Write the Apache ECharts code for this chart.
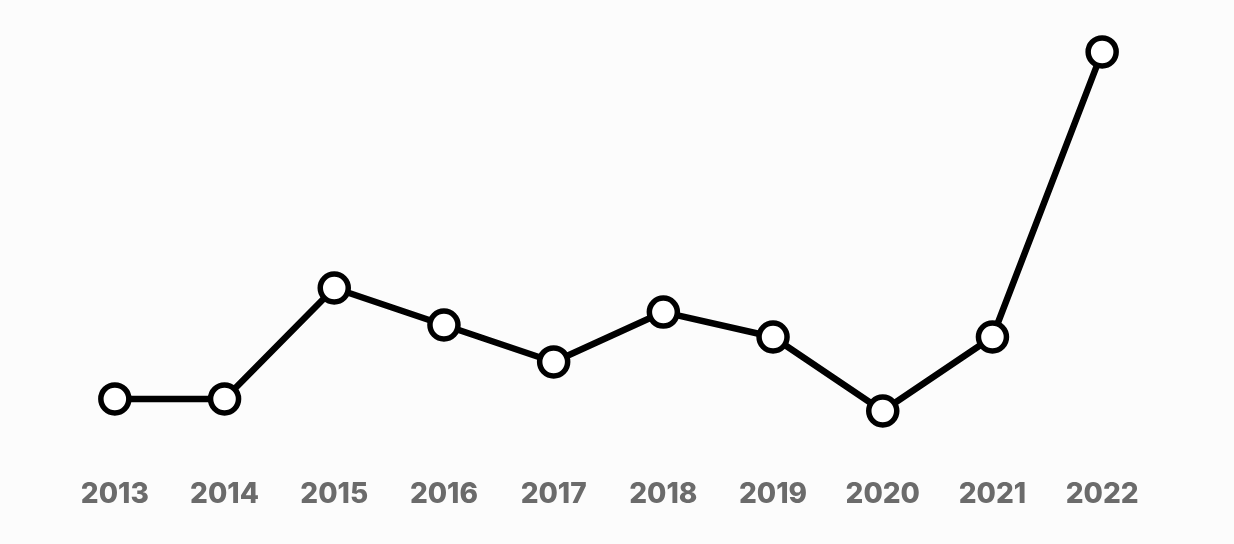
<!DOCTYPE html>
<html>
<head>
<meta charset="utf-8">
<script src="https://cdn.jsdelivr.net/npm/echarts@6/dist/echarts.min.js"></script>
<style>
html,body{margin:0;padding:0;background:#fcfcfc;}
#chart{width:1234px;height:544px;}
</style>
</head>
<body>
<div id="chart"></div>
<script>
const categories = ['2013','2014','2015','2016','2017','2018','2019','2020','2021','2022'];
const values = [14.2, 14.2, 40.0, 31.4, 22.8, 34.4, 28.6, 11.4, 28.6, 94.9];

const chart = echarts.init(document.getElementById('chart'));
chart.setOption({
  backgroundColor: '#fcfcfc',
  animation: false,
  grid: { left: 60, right: 77, top: 30, bottom: 84 },
  xAxis: {
    type: 'category',
    data: categories,
    boundaryGap: true,
    axisLine: { show: false },
    axisTick: { show: false },
    axisLabel: {
      margin: 21,
      fontFamily: 'Inter',
      fontWeight: 800,
      fontSize: 28,
      color: '#6b6b6b'
    }
  },
  yAxis: {
    type: 'value',
    min: 0,
    max: 100,
    show: false
  },
  series: [{
    type: 'line',
    data: values,
    symbol: 'circle',
    symbolSize: 28,
    lineStyle: { color: '#000', width: 6.5 },
    itemStyle: { color: '#fff', borderColor: '#000', borderWidth: 5.5 }
  }]
});
</script>
</body>
</html>
